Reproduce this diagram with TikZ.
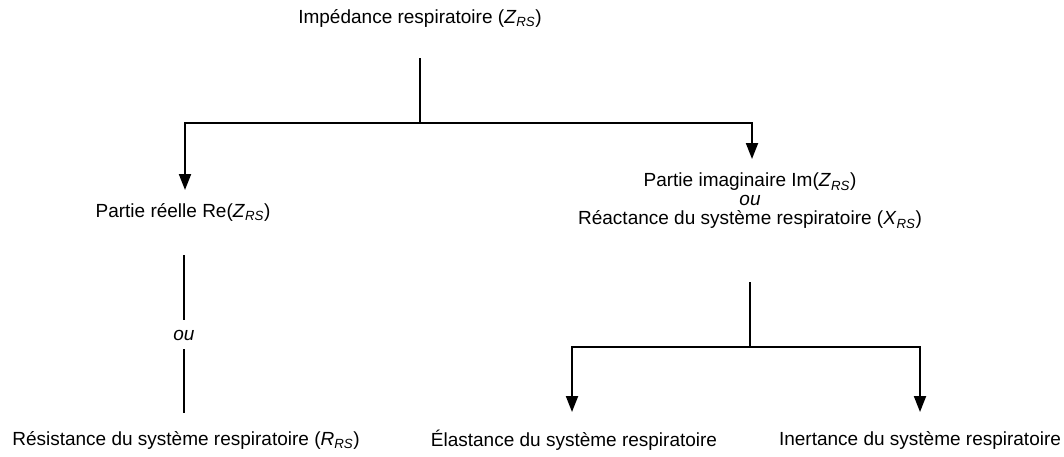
\documentclass[tikz,border=0pt]{standalone}
\usepackage{fontspec}
\setmainfont{Liberation Sans}
\usetikzlibrary{arrows.meta}
\newcommand{\zrs}[1]{\textit{#1}\textsubscript{\textit{RS}}}
\begin{document}
\begin{tikzpicture}[x=1pt,y=-1pt,
  lbl/.style={inner sep=0pt, font=\fontsize{19}{19}\selectfont},
  conn/.style={line width=2pt, line join=miter},
  arr/.style={conn, -{Triangle[width=12pt,length=16pt]}}]
\useasboundingbox (0,0) rectangle (1064,456);
\node[lbl] (imp) at (420,18) {Impédance respiratoire (\zrs{Z})};
\node[lbl] (re) at (183,212) {Partie réelle Re(\zrs{Z})};
\node[lbl, align=center] (im) at (750,201) {Partie imaginaire Im(\zrs{Z})\\ \textit{ou}\\ Réactance du système respiratoire (\zrs{X})};
\node[lbl] (ou) at (184,335) {\textit{ou}};
\node[lbl] (res) at (186,440) {Résistance du système respiratoire (\zrs{R})};
\node[lbl] (ela) at (574,440) {Élastance du système respiratoire};
\node[lbl] (ine) at (920,440) {Inertance du système respiratoire};
\coordinate (s1) at (420,58);
\coordinate (j1) at (420,123);
\coordinate (tl) at (185,190);
\coordinate (tr) at (752,159);
\coordinate (s2) at (750,282);
\coordinate (j2) at (750,347);
\coordinate (bl) at (572,412);
\coordinate (br) at (920,412);
\coordinate (a1) at (184,255);
\coordinate (a2) at (184,320);
\coordinate (b1) at (184,349);
\coordinate (b2) at (184,413);
\draw[conn] (s1) -- (j1);
\draw[arr] (j1) -| (tl);
\draw[arr] (j1) -| (tr);
\draw[conn] (s2) -- (j2);
\draw[arr] (j2) -| (bl);
\draw[arr] (j2) -| (br);
\draw[conn] (a1) -- (a2);
\draw[conn] (b1) -- (b2);
\end{tikzpicture}
\end{document}
